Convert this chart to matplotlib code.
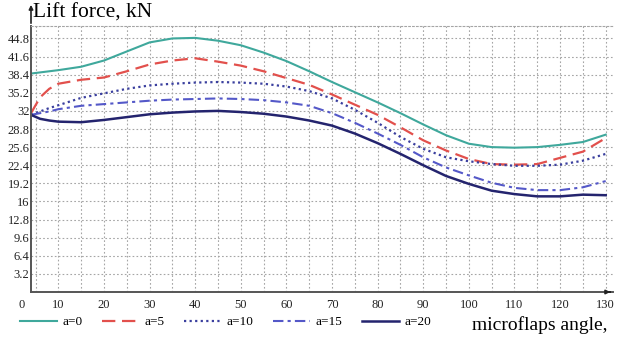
import numpy as np
import matplotlib
matplotlib.use('Agg')
import matplotlib.pyplot as plt

# --- data ---
angle = [4, 6, 8, 10, 15, 20, 25, 30, 35, 40, 45, 50, 55, 60, 65,
         70, 75, 80, 85, 90, 95, 100, 105, 110, 115, 120, 125, 130]

lift_a0 = [38.6, 38.8, 39.0, 39.2, 39.8, 40.9, 42.5, 44.1, 44.8, 44.9, 44.4, 43.6, 42.3, 40.8, 39.0,
           37.1, 35.3, 33.5, 31.6, 29.6, 27.7, 26.2, 25.6, 25.5, 25.6, 26.0, 26.5, 27.8]
lift_a5 = [31.6, 34.4, 35.9, 36.8, 37.5, 37.9, 39.0, 40.2, 40.9, 41.3, 40.7, 40.0, 39.0, 37.8, 36.6,
           34.9, 33.1, 31.3, 29.1, 26.8, 25.0, 23.5, 22.6, 22.5, 22.6, 23.7, 24.8, 27.2]
lift_a10 = [31.3, 31.9, 32.5, 33.0, 34.3, 35.1, 35.9, 36.5, 36.8, 37.0, 37.1, 37.0, 36.8, 36.3, 35.5,
            34.2, 32.2, 29.9, 27.4, 25.3, 23.8, 23.1, 22.6, 22.3, 22.3, 22.5, 23.2, 24.4]
lift_a15 = [31.3, 31.6, 31.9, 32.3, 32.9, 33.2, 33.5, 33.8, 34.0, 34.1, 34.2, 34.1, 33.9, 33.5, 32.9,
            31.6, 29.9, 28.0, 26.0, 23.8, 22.0, 20.6, 19.3, 18.4, 18.0, 18.0, 18.5, 19.6]
lift_a20 = [31.3, 30.6, 30.3, 30.1, 30.0, 30.4, 30.9, 31.4, 31.7, 31.9, 32.0, 31.8, 31.5, 31.0, 30.3,
            29.4, 28.0, 26.3, 24.4, 22.4, 20.5, 19.1, 17.9, 17.3, 16.9, 16.9, 17.2, 17.1]

labels = ['a=0', 'a=5', 'a=10', 'a=15', 'a=20']
y_ticks = [3.2, 6.4, 9.6, 12.8, 16, 19.2, 22.4, 25.6, 28.8, 32, 35.2, 38.4, 41.6, 44.8]
y_tick_labels = ['3.2', '6.4', '9.6', '12.8', '16', '19.2', '22.4', '25.6', '28.8', '32',
                 '35.2', '38.4', '41.6', '44.8']
x_ticks = [10, 20, 30, 40, 50, 60, 70, 80, 90, 100, 110, 120, 130]

plt.rcParams['font.family'] = ['Liberation Serif', 'DejaVu Serif']

fig = plt.figure(figsize=(6.24, 3.38), dpi=100)
ax = fig.add_axes([31 / 624, 46 / 338, 582 / 624, 266 / 338])

styles = [
    dict(color='#3fa89c', linestyle='-', linewidth=1.5),
    dict(color='#e2504c', linestyle=(0, (6, 3)), linewidth=1.6),
    dict(color='#3a3f9e', linestyle=(0, (1, 1.5)), linewidth=1.6),
    dict(color='#5458c8', linestyle=(0, (5, 2, 1.5, 2)), linewidth=1.5),
    dict(color='#24246e', linestyle='-', linewidth=1.8),
]
series = [lift_a0, lift_a5, lift_a10, lift_a15, lift_a20]

for vals, lab, st in zip(series, labels, styles):
    ax.plot(angle, vals, label=lab, **st)

ax.set_xlim(4, 131.6)
ax.set_ylim(0, 47.0)

# grid every 5 degrees and at every y tick
ax.set_xticks(np.arange(5, 131, 5), minor=True)
ax.set_xticks(x_ticks)
ax.set_yticks(y_ticks)
ax.set_yticklabels(y_tick_labels)
ax.grid(True, which='both', linestyle=(0, (1.5, 2)), color='#a5a5a5', linewidth=0.8)
ax.set_axisbelow(True)

ax.tick_params(which='both', length=0, labelsize=9, colors='#222222')
ax.tick_params(axis='y', pad=1)
ax.tick_params(axis='x', pad=5)

ax.spines['right'].set_visible(False)
ax.spines['top'].set_linestyle((0, (1.5, 2)))
ax.spines['top'].set_color('#a5a5a5')
ax.spines['top'].set_linewidth(0.8)
for s in ['left', 'bottom']:
    ax.spines[s].set_color('#555555')
    ax.spines[s].set_linewidth(1.4)

# axis arrows
ax.annotate('', xy=(0, 1.09), xytext=(0, 1.0), xycoords='axes fraction',
            arrowprops=dict(arrowstyle='-|>', color='#222222', lw=1.2, mutation_scale=6),
            annotation_clip=False)
ax.annotate('', xy=(1.0, 0), xytext=(0.99, 0), xycoords='axes fraction',
            arrowprops=dict(arrowstyle='-|>', color='#222222', lw=1.2, mutation_scale=6),
            annotation_clip=False)

ax.annotate('0', xy=(0, 0), xycoords='axes fraction', xytext=(-7, -9),
            textcoords='offset points', ha='center', va='center', fontsize=9, color='#222222')

fig.text(33 / 624, 1 - 13 / 338, 'Lift force, kN', fontsize=15.5, ha='left', va='center')
fig.text(607 / 624, 1 - 325 / 338, 'microflaps angle,', fontsize=14, ha='right', va='center')

fig.legend(loc='center left', bbox_to_anchor=(20 / 624, 1 - 322 / 338), ncol=5,
           frameon=False, fontsize=9.5, handlelength=2.8, handletextpad=0.4,
           columnspacing=1.5, borderaxespad=0, borderpad=0)

fig.savefig('out.png', dpi=100)
